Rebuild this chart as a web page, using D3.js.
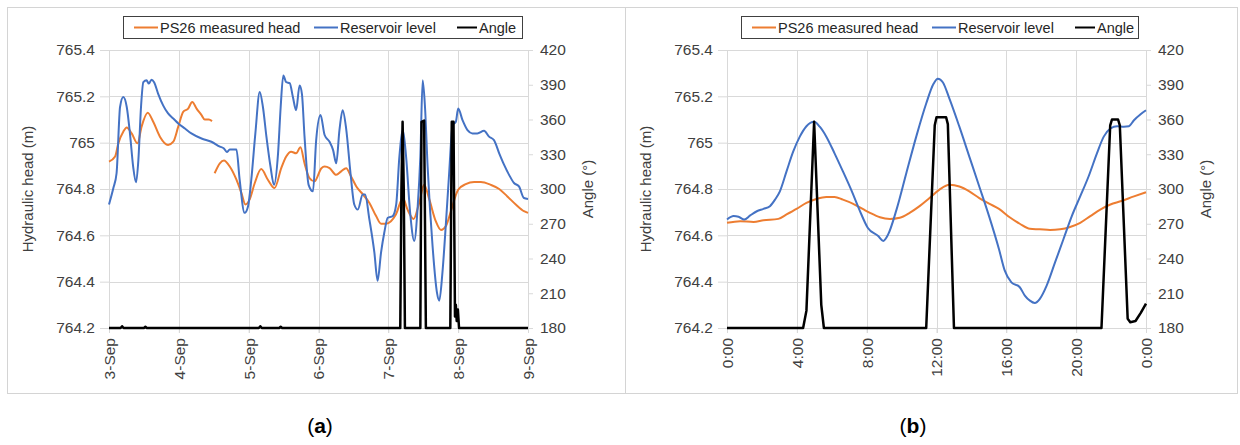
<!DOCTYPE html>
<html>
<head>
<meta charset="utf-8">
<script src="https://cdn.jsdelivr.net/npm/d3@7"></script>
<style>
  body { margin: 0; background: #fff; }
  svg text { font-family: Arial, "Liberation Sans", sans-serif; }
</style>
</head>
<body>
<svg id="chart" width="1240" height="445"></svg>
<script>
// ---- data ----
// panel a: hours since 3-Sep 0:00
const dayTicksA = ['3-Sep', '4-Sep', '5-Sep', '6-Sep', '7-Sep', '8-Sep', '9-Sep'];
// panel b: hours since 0:00
const hourTicksB = ['0:00', '4:00', '8:00', '12:00', '16:00', '20:00', '0:00'];
const headTicks = [764.2, 764.4, 764.6, 764.8, 765, 765.2, 765.4];
const angleTicks = [180, 210, 240, 270, 300, 330, 360, 390, 420];
const seriesNames = ['PS26 measured head', 'Reservoir level', 'Angle'];

const measuredA = [[0,764.918],[2.1,764.94],[3.2,764.997],[4.9,765.047],[6.1,765.066],[7.8,765.04],[9.8,764.997],[11.2,765.069],[13.3,765.129],[15.2,765.09],[17.5,765.026],[20.3,764.99],[22.1,765.004],[23.8,765.069],[25.5,765.133],[27.2,765.147],[28.6,765.176],[30.1,765.147],[31.8,765.119],[32.9,765.1],[34.3,765.1],[35.4,765.093],[35.8,null],[36.3,764.868],[38.1,764.911],[39.5,764.923],[41.5,764.897],[43.8,764.84],[45.5,764.783],[46.9,764.733],[48.3,764.754],[50.1,764.826],[52.3,764.886],[54.6,764.84],[56.9,764.804],[59.2,764.89],[60.9,764.94],[62.6,764.961],[64.3,764.954],[65.8,764.98],[67.2,764.911],[68.9,764.847],[70.6,764.833],[73.0,764.89],[74.1,764.897],[75.8,764.89],[78.1,764.861],[79.8,764.876],[81.5,764.89],[83.2,764.854],[85.0,764.811],[87.3,764.776],[89.5,764.74],[91.8,764.683],[93.5,764.65],[95.2,764.65],[96.9,764.661],[98.6,764.69],[101.0,764.761],[102.6,764.711],[104.7,764.671],[106.6,764.74],[108.3,764.818],[110.1,764.754],[112.3,764.661],[114.1,764.623],[115.8,764.64],[117.5,764.704],[120.0,764.797],[122.6,764.821],[125.5,764.83],[127.8,764.83],[131.2,764.818],[134.1,764.8],[136.9,764.768],[139.8,764.733],[142.6,764.704],[144,764.697]];

const reservoirA = [[0,764.733],[1.5,764.804],[2.6,764.868],[3.8,765.154],[4.9,765.197],[6.1,765.154],[7.2,765.04],[8.3,764.897],[9.3,764.829],[10.1,764.926],[11,765.154],[11.8,765.261],[12.9,765.269],[13.7,765.255],[14.6,765.272],[15.5,765.261],[16.9,765.211],[18.6,765.161],[20.3,765.126],[22.1,765.104],[23.8,765.083],[26.1,765.061],[28.3,765.04],[31.8,765.018],[35.2,765.004],[38.1,764.983],[39.5,764.975],[40.5,764.96],[41.5,764.97],[43.8,764.97],[44.9,764.84],[46.6,764.697],[47.8,764.726],[48.9,764.84],[50.3,765.04],[51.8,765.219],[52.9,765.154],[54.1,765.026],[55.5,764.897],[56.7,764.818],[58.1,764.954],[59.0,765.154],[59.9,765.29],[60.9,765.261],[62.1,765.257],[63.2,765.197],[64.3,765.14],[65.5,765.247],[66.3,765.211],[67.2,765.026],[68.6,764.818],[70.1,764.79],[71.2,765.011],[72.7,765.119],[74.1,765.033],[75.8,765.004],[77.0,764.969],[78.1,764.911],[79.2,765.054],[80.3,765.14],[81.5,765.061],[83.0,764.868],[84.3,764.733],[85.5,764.711],[87.2,764.776],[88.0,764.776],[89.5,764.668],[91.2,764.526],[92.3,764.404],[93.5,764.526],[94.6,764.611],[95.8,764.676],[97.5,764.683],[98.7,764.733],[99.8,764.94],[101.0,765.054],[102.1,764.94],[103.5,764.697],[104.9,764.576],[106.1,764.726],[107.0,764.94],[107.8,765.269],[108.6,765.154],[109.5,764.897],[111.2,764.554],[112.7,764.354],[113.5,764.318],[114.6,764.44],[115.8,764.654],[116.9,764.868],[118.1,765.076],[119.2,765.09],[120.0,765.147],[121.5,765.097],[123.2,765.054],[124.9,765.04],[126.6,765.04],[128.9,765.051],[130.6,765.026],[132.3,765.011],[134.1,764.954],[135.8,764.904],[137.5,764.861],[139.2,764.826],[140.9,764.811],[142.6,764.761],[144.0,764.757]];

const angleA = [[0,180],[4,180],[4.5,181.5],[5,180],[12,180],[12.5,181],[13,180],[51.5,180],[52,181.5],[52.5,180],[58.5,180],[59,181],[59.5,180],[100.1,180],[100.5,300],[100.9,358],[101.3,300],[101.7,180],[107.0,180],[107.4,358],[108.3,359],[108.9,180],[117.3,180],[117.8,358],[118.4,358],[118.9,190],[119.2,200],[119.5,186],[119.9,196],[120.3,180],[144,180]];

const measuredB = [[0,764.654],[0.76,764.661],[1.52,764.658],[2.09,764.665],[2.94,764.671],[3.41,764.69],[3.98,764.714],[4.55,764.74],[5.12,764.757],[5.69,764.766],[6.16,764.766],[6.64,764.754],[7.2,764.737],[7.77,764.714],[8.19,764.697],[8.76,764.678],[9.33,764.671],[9.9,764.676],[10.46,764.697],[11.03,764.726],[11.6,764.761],[12.17,764.797],[12.74,764.818],[13.31,764.811],[13.88,764.79],[14.45,764.761],[15.01,764.737],[15.58,764.714],[16.19,764.678],[16.77,764.65],[17.35,764.628],[17.92,764.626],[18.5,764.623],[19.08,764.626],[19.65,764.636],[20.23,764.654],[20.81,764.683],[21.38,764.711],[21.96,764.733],[22.54,764.747],[23.31,764.768],[24,764.786]];

const reservoirB = [[0,764.668],[0.38,764.683],[0.66,764.68],[0.99,764.668],[1.33,764.686],[1.71,764.704],[2.09,764.714],[2.46,764.726],[2.75,764.754],[3.03,764.79],[3.41,764.876],[3.79,764.961],[4.17,765.026],[4.55,765.071],[4.99,765.09],[5.31,765.069],[5.69,765.026],[6.16,764.954],[6.64,764.876],[7.11,764.797],[7.58,764.711],[8.06,764.633],[8.66,764.597],[8.95,764.576],[9.23,764.604],[9.71,764.711],[10.27,764.868],[10.84,765.026],[11.41,765.169],[11.83,765.254],[12.08,765.276],[12.36,765.261],[12.74,765.19],[13.31,765.069],[13.88,764.94],[14.45,764.811],[15.01,764.683],[15.58,764.54],[15.9,764.45],[16.29,764.397],[16.77,764.376],[17.06,764.34],[17.35,764.318],[17.63,764.308],[17.92,764.326],[18.31,764.383],[18.79,764.483],[19.27,764.583],[19.75,764.683],[20.23,764.768],[20.71,764.854],[21.19,764.954],[21.58,765.026],[21.96,765.061],[22.35,765.071],[22.73,765.069],[23.02,765.071],[23.31,765.097],[23.69,765.123],[24,765.14]];

const angleB = [[0,180],[4.36,180],[4.55,195],[4.99,358],[5.4,200],[5.55,180],[11.41,180],[11.9,355],[12.0,362],[12.55,362],[12.65,356],[13.0,180],[21.45,180],[21.95,355],[22.05,360],[22.4,360],[22.5,355],[22.95,188],[23.1,185],[23.4,186],[23.7,193],[24,201]];

const colors = { head: '#ED7D31', res: '#4472C4', angle: '#000000' };
const textCol = '#404040';
const gridCol = '#d9d9d9';
const fontFam = 'Arial, "Liberation Sans", sans-serif';

const svg = d3.select('#chart');

function drawPanel(p) {
  const g = svg.append('g');

  // outer frame
  g.append('rect')
    .attr('x', p.frame[0] + 0.5).attr('y', 7.5)
    .attr('width', p.frame[1] - p.frame[0]).attr('height', 386)
    .attr('fill', 'none').attr('stroke', '#d4d4d4');

  const x = d3.scaleLinear().domain([0, p.span]).range([p.left, p.right]);
  const yH = d3.scaleLinear().domain([764.2, 765.4]).range([328, 50]);
  const yA = d3.scaleLinear().domain([180, 420]).range([328, 50]);
  const step = p.span / (p.xLabels.length - 1);
  const xVals = p.xLabels.map((d, i) => i * step);

  // grid
  g.append('g').selectAll('line.h').data(headTicks).join('line')
    .attr('x1', p.left).attr('x2', p.right)
    .attr('y1', d => Math.round(yH(d)) + 0.5).attr('y2', d => Math.round(yH(d)) + 0.5)
    .attr('stroke', gridCol);
  g.append('g').selectAll('line.v').data(xVals).join('line')
    .attr('x1', d => Math.round(x(d)) + 0.5).attr('x2', d => Math.round(x(d)) + 0.5)
    .attr('y1', 50).attr('y2', 333)
    .attr('stroke', gridCol);

  // left axis
  const axL = g.append('g').attr('transform', `translate(${p.left},0)`)
    .call(d3.axisLeft(yH).tickValues(headTicks).tickSize(9).tickPadding(5).tickFormat(d3.format('')));
  axL.select('.domain').remove();
  axL.selectAll('line').attr('stroke', gridCol);
  axL.selectAll('text').attr('font-size', 15.5).attr('fill', textCol).attr('font-family', fontFam);

  // right axis
  const axR = g.append('g').attr('transform', `translate(${p.right},0)`)
    .call(d3.axisRight(yA).tickValues(angleTicks).tickSize(5).tickPadding(7));
  axR.select('.domain').remove();
  axR.selectAll('line').attr('stroke', gridCol);
  axR.selectAll('text').attr('font-size', 15.5).attr('fill', textCol).attr('font-family', fontFam);

  // bottom axis labels (rotated)
  const axB = g.append('g').attr('transform', 'translate(0,328)')
    .call(d3.axisBottom(x).tickValues(xVals).tickSize(5).tickFormat((d, i) => p.xLabels[i]));
  axB.select('.domain').remove();
  axB.selectAll('line').attr('stroke', gridCol);
  axB.selectAll('text')
    .attr('font-size', 15.5).attr('fill', textCol).attr('font-family', fontFam)
    .attr('text-anchor', 'end')
    .attr('transform', 'rotate(-90)')
    .attr('x', -10).attr('y', 0).attr('dy', '0.35em');

  // axis titles
  g.append('text')
    .attr('transform', `translate(${p.left - 76},189) rotate(-90)`)
    .attr('text-anchor', 'middle').attr('font-size', 15).attr('fill', textCol)
    .text('Hydraulic head (m)');
  g.append('text')
    .attr('transform', `translate(${p.right + 65},189) rotate(-90)`)
    .attr('text-anchor', 'middle').attr('font-size', 15).attr('fill', textCol)
    .text('Angle (°)');

  // series
  const lineH = d3.line().defined(d => d[1] != null)
    .x(d => x(d[0])).y(d => yH(d[1])).curve(d3.curveMonotoneX);
  const lineA = d3.line().x(d => x(d[0])).y(d => yA(d[1]));

  g.append('path').datum(p.measured).attr('d', lineH)
    .attr('fill', 'none').attr('stroke', colors.head).attr('stroke-width', 2);
  g.append('path').datum(p.reservoir).attr('d', lineH)
    .attr('fill', 'none').attr('stroke', colors.res).attr('stroke-width', 2);
  g.append('path').datum(p.angle).attr('d', lineA)
    .attr('fill', 'none').attr('stroke', colors.angle).attr('stroke-width', 2.5)
    .attr('stroke-linejoin', 'round');

  // legend
  const lg = g.append('g');
  lg.append('rect')
    .attr('x', p.legend[0] + 0.5).attr('y', 16.5)
    .attr('width', p.legend[1] - p.legend[0]).attr('height', 22)
    .attr('fill', '#fff').attr('stroke', '#404040');
  const items = [
    { name: seriesNames[0], col: colors.head, x0: 11, len: 24 },
    { name: seriesNames[1], col: colors.res, x0: 191, len: 24 },
    { name: seriesNames[2], col: colors.angle, x0: 334, len: 20 }
  ];
  items.forEach(it => {
    const bx = p.legend[0] + it.x0;
    lg.append('line').attr('x1', bx).attr('x2', bx + it.len).attr('y1', 27.5).attr('y2', 27.5)
      .attr('stroke', it.col).attr('stroke-width', 2);
    lg.append('text').attr('x', bx + it.len + 2).attr('y', 27.5).attr('dy', '0.35em')
      .attr('font-size', 14.5).attr('fill', '#262626').text(it.name);
  });

  // panel caption
  const cap = svg.append('text')
    .attr('x', p.caption).attr('y', 433)
    .attr('text-anchor', 'middle')
    .attr('font-family', '"Liberation Serif", "DejaVu Serif", serif')
    .attr('font-size', 21).attr('fill', '#000');
  cap.append('tspan').text('(');
  cap.append('tspan').attr('font-weight', 'bold').text(p.tag);
  cap.append('tspan').text(')');
}

drawPanel({
  frame: [7, 625], left: 109, right: 528, span: 144,
  xLabels: dayTicksA, measured: measuredA, reservoir: reservoirA, angle: angleA,
  legend: [123, 522], caption: 320, tag: 'a'
});
drawPanel({
  frame: [625, 1237], left: 727, right: 1146, span: 24,
  xLabels: hourTicksB, measured: measuredB, reservoir: reservoirB, angle: angleB,
  legend: [741, 1138], caption: 913, tag: 'b'
});
</script>
</body>
</html>
